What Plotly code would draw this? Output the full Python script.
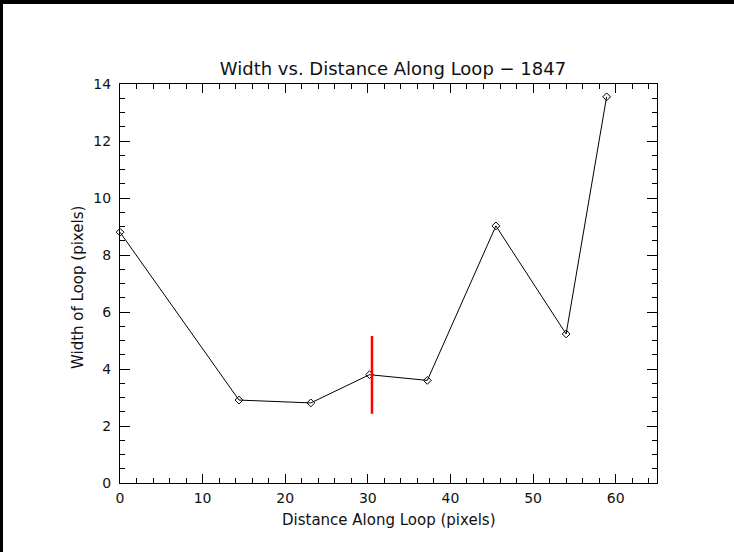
import plotly.graph_objects as go

# Data
distance = [0.0, 14.4, 23.1, 30.2, 37.2, 45.5, 54.0, 58.9]
width = [8.8, 2.91, 2.81, 3.8, 3.6, 9.02, 5.23, 13.55]
marker_x = [30.5, 30.5]
marker_y = [2.43, 5.16]

title = "Width vs. Distance Along Loop \u2212 1847"
xlabel = "Distance Along Loop (pixels)"
ylabel = "Width of Loop (pixels)"

W, H = 734, 552
L, R, T, B = 120, 77, 84, 69
FONT = "DejaVu Sans"

fig = go.Figure()
fig.add_trace(go.Scatter(
    x=distance, y=width, mode="lines+markers",
    line=dict(color="black", width=1),
    marker=dict(symbol="diamond-open", size=6, color="black", line=dict(width=1)),
    showlegend=False, cliponaxis=False,
))
fig.add_trace(go.Scatter(
    x=marker_x, y=marker_y, mode="lines",
    line=dict(color="#ff0000", width=2.5),
    showlegend=False,
))

axis_common = dict(
    showgrid=False, zeroline=False, showline=True, linecolor="black", linewidth=1,
    mirror="ticks", ticks="inside", tickcolor="black", tickwidth=1,
    tickfont=dict(family=FONT, size=14, color="#111111"),
)
fig.update_xaxes(range=[0, 65], dtick=10, tick0=0, ticklen=9, ticklabelstandoff=2,
                 minor=dict(ticks="inside", ticklen=5, dtick=2, tickcolor="black", showgrid=False),
                 **axis_common)
fig.update_yaxes(range=[0, 14], dtick=2, tick0=0, ticklen=10, ticklabelstandoff=5,
                 minor=dict(ticks="inside", ticklen=5, dtick=0.5, tickcolor="black", showgrid=False),
                 **axis_common)

pw = W - L - R
ph = H - T - B

def px(x):
    return (x - L) / pw

def py(y):
    return (H - B - y) / ph

# black border strips at top and left edges
fig.add_shape(type="rect", xref="paper", yref="paper",
              x0=px(-5), x1=px(W + 5), y0=py(4), y1=py(-5),
              fillcolor="black", line=dict(width=0), layer="above")
fig.add_shape(type="rect", xref="paper", yref="paper",
              x0=px(-5), x1=px(3), y0=py(H + 5), y1=py(-5),
              fillcolor="black", line=dict(width=0), layer="above")

fig.add_annotation(text=xlabel, xref="paper", yref="paper",
                   x=px(389), y=py(520), showarrow=False,
                   font=dict(family=FONT, size=15, color="#111111"),
                   xanchor="center", yanchor="middle")
fig.add_annotation(text=ylabel, xref="paper", yref="paper",
                   x=px(78), y=py(288), showarrow=False, textangle=-90,
                   font=dict(family=FONT, size=15, color="#111111"),
                   xanchor="center", yanchor="middle")

fig.update_layout(
    width=W, height=H,
    margin=dict(l=L, r=R, t=T, b=B),
    paper_bgcolor="white", plot_bgcolor="white",
    title=dict(text=title, x=393 / W, xanchor="center", y=1 - 69 / H, yanchor="middle",
               font=dict(family=FONT, size=18, color="#111111")),
)

fig.write_html("out.html")
